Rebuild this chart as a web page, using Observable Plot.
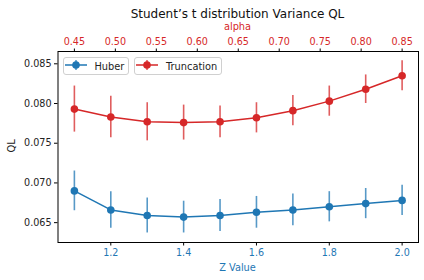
<!DOCTYPE html>
<html>
<head>
<meta charset="utf-8">
<script src="https://cdn.jsdelivr.net/npm/d3@7"></script>
<script src="https://cdn.jsdelivr.net/npm/@observablehq/plot@0.6"></script>
<style>
  html, body { margin: 0; padding: 0; background: #fff; }
  #wrap { position: relative; width: 424px; height: 280px; font-family: "DejaVu Sans", sans-serif; }
  #wrap svg { position: absolute; left: 0; top: 0; }
  .lbl { position: absolute; white-space: nowrap; line-height: 1; }
  .leg { position: absolute; top: 56.5px; height: 18px; border: 1px solid #d0d0d0; border-radius: 3px; background: rgba(255,255,255,0.8); box-sizing: border-box; font-size: 9.8px; color: #222; }
  .leg svg { position: absolute; left: 2px; top: 2px; }
  .leg span { position: absolute; top: 3px; }
</style>
</head>
<body>
<div id="wrap"></div>
<script>
const zValues = [1.1, 1.2, 1.3, 1.4, 1.5, 1.6, 1.7, 1.8, 1.9, 2.0];
const huberQL = [0.0690, 0.0666, 0.0659, 0.0657, 0.0659, 0.0663, 0.0666, 0.0670, 0.0674, 0.0678];
const huberErr = [0.0025, 0.0023, 0.0022, 0.0020, 0.0020, 0.0020, 0.0020, 0.0019, 0.0019, 0.0019];
const truncQL = [0.0793, 0.0783, 0.0777, 0.0776, 0.0777, 0.0782, 0.0791, 0.0803, 0.0818, 0.0835];
const truncErr = [0.0029, 0.0026, 0.0024, 0.0022, 0.0020, 0.0019, 0.0019, 0.0019, 0.0018, 0.0019];
const alphaTicks = [0.45, 0.50, 0.55, 0.60, 0.65, 0.70, 0.75, 0.80, 0.85];
const zTicks = [1.2, 1.4, 1.6, 1.8, 2.0];
const yTicks = [0.065, 0.070, 0.075, 0.080, 0.085];
const seriesNames = ["Huber", "Truncation"];
const colors = ["#1f77b4", "#d62728"];

// alpha runs linearly with Z: alpha 0.45 at Z 1.1, alpha 0.85 at Z 2.0
const alphaToZ = d3.scaleLinear().domain([0.45, 0.85]).range([1.1, 2.0]);

const rows = [];
zValues.forEach((z, i) => {
  rows.push({series: seriesNames[0], z, v: huberQL[i], lo: huberQL[i] - huberErr[i], hi: huberQL[i] + huberErr[i]});
  rows.push({series: seriesNames[1], z, v: truncQL[i], lo: truncQL[i] - truncErr[i], hi: truncQL[i] + truncErr[i]});
});

const chart = Plot.plot({
  width: 424,
  height: 280,
  marginTop: 51,
  marginBottom: 38,
  marginLeft: 57.5,
  marginRight: 6,
  style: {fontFamily: "DejaVu Sans, sans-serif", fontSize: "9.6px", background: "transparent", overflow: "visible"},
  x: {domain: [1.055, 2.045], label: null},
  y: {domain: [0.0625, 0.08655], label: null},
  color: {domain: seriesNames, range: colors},
  marks: [
    Plot.ruleX(rows, {x: "z", y1: "lo", y2: "hi", stroke: "series", strokeWidth: 1.6, strokeOpacity: 0.75}),
    Plot.line(rows, {x: "z", y: "v", z: "series", stroke: "series", strokeWidth: 1.5}),
    Plot.dot(rows, {x: "z", y: "v", fill: "series", r: 3.8}),
    Plot.frame({stroke: "black", strokeWidth: 1}),
    Plot.axisX({anchor: "bottom", ticks: zTicks, tickFormat: d3.format(".1f"), tickSize: 3.5, tickPadding: 3, stroke: "black", fill: colors[0], fontSize: 9.6, label: null}),
    Plot.axisX({anchor: "top", ticks: alphaTicks.map(a => alphaToZ(a)), tickFormat: z => d3.format(".2f")(alphaToZ.invert(z)), tickSize: 3.5, tickPadding: 3, stroke: "black", fill: colors[1], fontSize: 9.6, label: null}),
    Plot.axisY({ticks: yTicks, tickFormat: d3.format(".3f"), tickSize: 3.5, tickPadding: 3, stroke: "black", fill: "#222", fontSize: 9.6, label: null})
  ]
});

const wrap = document.getElementById("wrap");
wrap.appendChild(chart);

function addLabel(text, css) {
  const d = document.createElement("div");
  d.className = "lbl";
  d.textContent = text;
  Object.assign(d.style, css);
  wrap.appendChild(d);
  return d;
}
addLabel("Student’s t distribution Variance QL", {left: "237.5px", top: "7.5px", transform: "translateX(-50%)", fontSize: "12px", color: "#111"});
addLabel("alpha", {left: "237.5px", top: "22px", transform: "translateX(-50%)", fontSize: "9.8px", color: colors[1]});
addLabel("Z Value", {left: "237.5px", top: "263px", transform: "translateX(-50%)", fontSize: "9.8px", color: colors[0]});
addLabel("QL", {left: "12px", top: "146px", transform: "translate(-50%,-50%) rotate(-90deg)", fontSize: "9.8px", color: "#222"});

function addLegend(name, color, left, width) {
  const box = document.createElement("div");
  box.className = "leg";
  box.style.left = left + "px";
  box.style.width = width + "px";
  box.innerHTML = `<svg width="26" height="12"><line x1="1" y1="7" x2="23" y2="7" stroke="${color}" stroke-width="1.5"/><line x1="12" y1="2" x2="12" y2="12" stroke="${color}" stroke-width="1.6" stroke-opacity="0.75"/><circle cx="12" cy="7" r="3.8" fill="${color}"/></svg><span style="left:31px">${name}</span>`;
  wrap.appendChild(box);
}
addLegend(seriesNames[0], colors[0], 62.5, 66);
addLegend(seriesNames[1], colors[1], 134, 88);
</script>
</body>
</html>
